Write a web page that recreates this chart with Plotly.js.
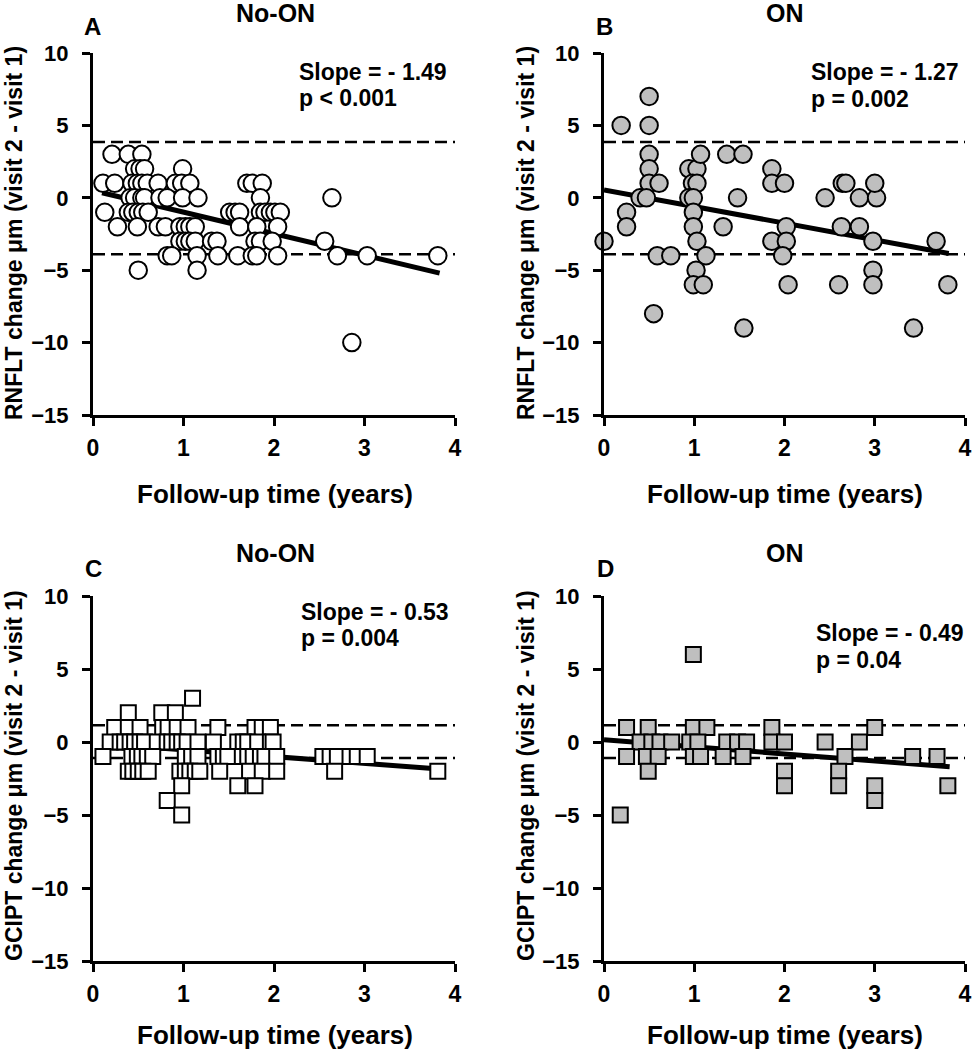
<!DOCTYPE html>
<html>
<head>
<meta charset="utf-8">
<script src="https://cdn.plot.ly/plotly-3.0.1.min.js"></script>
<style>html,body{margin:0;padding:0;background:#fff;}#chart{width:972px;height:1050px;}</style>
</head>
<body>
<div id="chart"></div>
<script>
// ---------- DATA ----------
const panelTitles = ["No-ON", "ON", "No-ON", "ON"];
const panelLetters = ["A", "B", "C", "D"];
const yTitles = ["RNFLT change μm (visit 2 - visit 1)", "RNFLT change μm (visit 2 - visit 1)",
                 "GCIPT change μm (visit 2 - visit 1)", "GCIPT change μm (visit 2 - visit 1)"];
const xTitle = "Follow-up time (years)";
const slopeTexts = ["Slope = - 1.49", "Slope = - 1.27", "Slope = - 0.53", "Slope = - 0.49"];
const pTexts = ["p < 0.001", "p = 0.002", "p = 0.004", "p = 0.04"];
const xTicks = [0, 1, 2, 3, 4];
const yTicks = [-15, -10, -5, 0, 5, 10];

// Panel A (No-ON, RNFLT)
const aX = [0.21,0.39,0.54, 0.46,0.52,0.57,0.99,
  0.11,0.24,0.43,0.49,0.54,0.60,0.72,0.91,0.98,1.07,1.70,1.76,1.87,
  0.41,0.46,0.54,0.57,0.74,0.82,0.99,1.16,1.85,2.64,
  0.13,0.39,0.44,0.50,0.55,0.61,1.51,1.57,1.62,1.85,1.90,1.96,2.01,2.07,
  0.27,0.49,0.72,0.80,0.96,1.02,1.07,1.13,1.62,1.81,2.04,
  0.96,1.02,1.07,1.13,1.31,1.37,1.79,1.85,1.98,2.56,
  0.82,0.87,1.15,1.38,1.60,1.76,1.81,2.04,2.70,3.03,3.81,
  0.50,1.15, 2.86];
const aY = [3,3,3, 2,2,2,2,
  1,1,1,1,1,1,1,1,1,1,1,1,1,
  0,0,0,0,0,0,0,0,0,0,
  -1,-1,-1,-1,-1,-1,-1,-1,-1,-1,-1,-1,-1,-1,
  -2,-2,-2,-2,-2,-2,-2,-2,-2,-2,-2,
  -3,-3,-3,-3,-3,-3,-3,-3,-3,-3,
  -4,-4,-4,-4,-4,-4,-4,-4,-4,-4,-4,
  -5,-5, -10];

// Panel B (ON, RNFLT)
const bX = [0.00,0.19,0.50,0.50,0.50,0.50,0.50,0.61,0.40,0.47,0.25,0.25,0.59,0.74,0.55,
  0.94,1.03,1.07,0.98,1.03,0.94,0.99,0.99,0.99,1.03,1.13,1.02,0.99,1.10,
  1.36,1.54,1.48,1.32,1.55,1.86,1.86,1.86,2.00,2.45,2.64,2.68,2.83,3.02,3.00,
  2.02,2.02,1.98,2.63,2.83,2.98,3.68,2.98,2.04,2.60,2.98,3.81,3.43];
const bY = [-3,5,7,5,3,2,1,1,0,0,-1,-2,-4,-4,-8,
  2,2,3,1,1,0,0,-1,-2,-3,-4,-5,-6,-6,
  3,3,0,-2,-9,2,1,-3,1,0,1,1,0,0,1,
  -2,-3,-4,-2,-2,-3,-3,-5,-6,-6,-6,-6,-9];

// Panel C (No-ON, GCIPT)
const cX = [1.10, 0.39,0.76,0.91,
  0.24,0.39,0.52,0.77,0.83,0.93,1.05,1.38,1.79,1.87,1.96,
  0.19,0.30,0.35,0.41,0.46,0.52,0.57,0.71,0.82,0.87,0.93,0.98,1.04,1.16,1.33,1.60,1.66,1.71,1.82,1.96,1.99,
  0.11,0.43,0.49,0.54,0.60,0.66,1.02,1.09,1.16,1.38,1.44,1.49,1.65,1.71,1.77,1.85,1.90,2.03,2.54,2.62,2.70,2.84,2.92,3.03,
  0.39,0.44,0.50,0.55,0.61,0.96,1.02,1.07,1.13,1.18,1.40,1.73,1.87,2.03,2.67,3.81,
  0.98,1.60,1.79, 0.82, 0.98];
const cY = [3, 2,2,2,
  1,1,1,1,1,1,1,1,1,1,1,
  0,0,0,0,0,0,0,0,0,0,0,0,0,0,0,0,0,0,0,0,0,
  -1,-1,-1,-1,-1,-1,-1,-1,-1,-1,-1,-1,-1,-1,-1,-1,-1,-1,-1,-1,-1,-1,-1,-1,
  -2,-2,-2,-2,-2,-2,-2,-2,-2,-2,-2,-2,-2,-2,-2,-2,
  -3,-3,-3, -4, -5];

// Panel D (ON, GCIPT)
const dX = [0.99, 0.25,0.49,0.99,1.14,1.86,3.00,
  0.40,0.53,0.62,0.75,0.95,1.04,1.36,1.48,1.58,1.86,2.00,2.45,2.83,
  0.25,0.47,0.60,0.99,1.07,1.32,1.54,2.67,3.42,3.69,
  0.49,2.00,2.60, 2.00,2.60,3.00,3.81, 3.00, 0.18];
const dY = [6, 1,1,1,1,1,1,
  0,0,0,0,0,0,0,0,0,0,0,0,0,
  -1,-1,-1,-1,-1,-1,-1,-1,-1,-1,
  -2,-2,-2, -3,-3,-3,-3, -4, -5];

// Regression lines (end points)
const aFitX = [0.10, 3.83], aFitY = [0.35, -5.2];
const bFitX = [0.00, 3.82], bFitY = [0.55, -3.85];
const cFitX = [0.10, 3.83], cFitY = [-0.12, -1.85];
const dFitX = [0.00, 3.83], dFitY = [0.15, -1.70];

// Reference (dashed) limits
const aLimits = [3.85, -3.9];
const bLimits = [3.85, -3.9];
const cLimits = [1.15, -1.1];
const dLimits = [1.15, -1.1];

// ---------- LAYOUT HELPERS ----------
const W = 972, H = 1050;
const px = v => v / W;
const py = v => 1 - v / H;
const FONT = "Liberation Sans, Arial, Helvetica, sans-serif";
const GRAY = "#bfbfbf";

const panels = [
  {x: aX, y: aY, fx: aFitX, fy: aFitY, lim: aLimits, sym: "circle", fill: "#ffffff", size: 17.5, xa: "x", ya: "y"},
  {x: bX, y: bY, fx: bFitX, fy: bFitY, lim: bLimits, sym: "circle", fill: GRAY, size: 17.5, xa: "x2", ya: "y2"},
  {x: cX, y: cY, fx: cFitX, fy: cFitY, lim: cLimits, sym: "square", fill: "#ffffff", size: 15, xa: "x3", ya: "y3"},
  {x: dX, y: dY, fx: dFitX, fy: dFitY, lim: dLimits, sym: "square", fill: GRAY, size: 15, xa: "x4", ya: "y4"}
];

// pixel geometry of each plot area [left, right, top, bottom]
const boxes = [[93, 455, 53, 415], [604, 965, 53, 415], [93, 455, 596, 961], [604, 965, 596, 961]];

const traces = [];
const shapes = [];
panels.forEach((p, i) => {
  traces.push({
    x: p.fx, y: p.fy, xaxis: p.xa, yaxis: p.ya, type: "scatter", mode: "lines",
    line: {color: "#000", width: 5}, hoverinfo: "skip", cliponaxis: false
  });
  traces.push({
    x: p.x, y: p.y, xaxis: p.xa, yaxis: p.ya, type: "scatter", mode: "markers",
    marker: {symbol: p.sym, size: p.size, color: p.fill, line: {color: "#000", width: 2}},
    cliponaxis: false
  });
  p.lim.forEach(l => {
    shapes.push({type: "line", xref: p.xa, yref: p.ya, x0: 0, x1: 4, y0: l, y1: l,
      line: {color: "#000", width: 2.4, dash: "12px,6px"}, layer: "below"});
  });
});

function axisX(box) {
  return {
    domain: [px(box[0]), px(box[1])], range: [0, 4], tickvals: xTicks,
    showline: true, linecolor: "#000", linewidth: 3, ticks: "outside", ticklen: 8, tickwidth: 3,
    ticklabelstandoff: 2,
    tickcolor: "#000", showgrid: false, zeroline: false, fixedrange: true,
    tickfont: {family: FONT, size: 23, color: "#000", weight: "bold"}
  };
}
function axisY(box, xa) {
  return {
    domain: [py(box[3]), py(box[2])], range: [-15, 10], tickvals: yTicks, anchor: xa,
    showline: true, linecolor: "#000", linewidth: 3, ticks: "outside", ticklen: 8, tickwidth: 3,
    ticklabelstandoff: 9,
    tickcolor: "#000", showgrid: false, zeroline: false, fixedrange: true,
    tickfont: {family: FONT, size: 22, color: "#000", weight: "bold"}
  };
}

const layout = {
  width: W, height: H, margin: {l: 0, r: 0, t: 0, b: 0},
  paper_bgcolor: "#fff", plot_bgcolor: "rgba(0,0,0,0)", showlegend: false,
  font: {family: FONT, color: "#000"},
  shapes: shapes, annotations: []
};
const axNames = ["", "2", "3", "4"];
boxes.forEach((b, i) => {
  const xa = axisX(b);
  xa.anchor = "y" + axNames[i];
  layout["xaxis" + axNames[i]] = xa;
  layout["yaxis" + axNames[i]] = axisY(b, "x" + axNames[i]);
});

function ann(text, x, y, size, opts) {
  layout.annotations.push(Object.assign({
    text: text, xref: "paper", yref: "paper", x: px(x), y: py(y), showarrow: false,
    xanchor: "center", yanchor: "middle",
    font: {family: FONT, size: size, color: "#000", weight: "bold"}
  }, opts || {}));
}

// text positions (pixels)
const titlePos = [[275, 13], [785, 13], [275, 553], [785, 553]];
const letterPos = [[92, 27], [604, 27], [93, 568], [605, 568]];
const slopePos = [[297, 72, 98], [809, 72, 99], [299, 612, 638], [814, 633, 660]];
const yTitlePos = [[14, 233], [526, 233], [14, 776], [526, 776]];
const xTitlePos = [[275, 494], [785, 494], [275, 1035], [785, 1035]];

for (let i = 0; i < 4; i++) {
  ann(panelTitles[i], titlePos[i][0], titlePos[i][1], 25);
  ann(panelLetters[i], letterPos[i][0], letterPos[i][1], 24);
  ann(slopeTexts[i], slopePos[i][0], slopePos[i][1], 23, {xanchor: "left"});
  ann(pTexts[i], slopePos[i][0], slopePos[i][2], 23, {xanchor: "left"});
  ann(yTitles[i], yTitlePos[i][0], yTitlePos[i][1], 23, {textangle: -90});
  ann(xTitle, xTitlePos[i][0], xTitlePos[i][1], 26);
}

Plotly.newPlot("chart", traces, layout, {displayModeBar: false, staticPlot: true});
</script>
</body>
</html>
